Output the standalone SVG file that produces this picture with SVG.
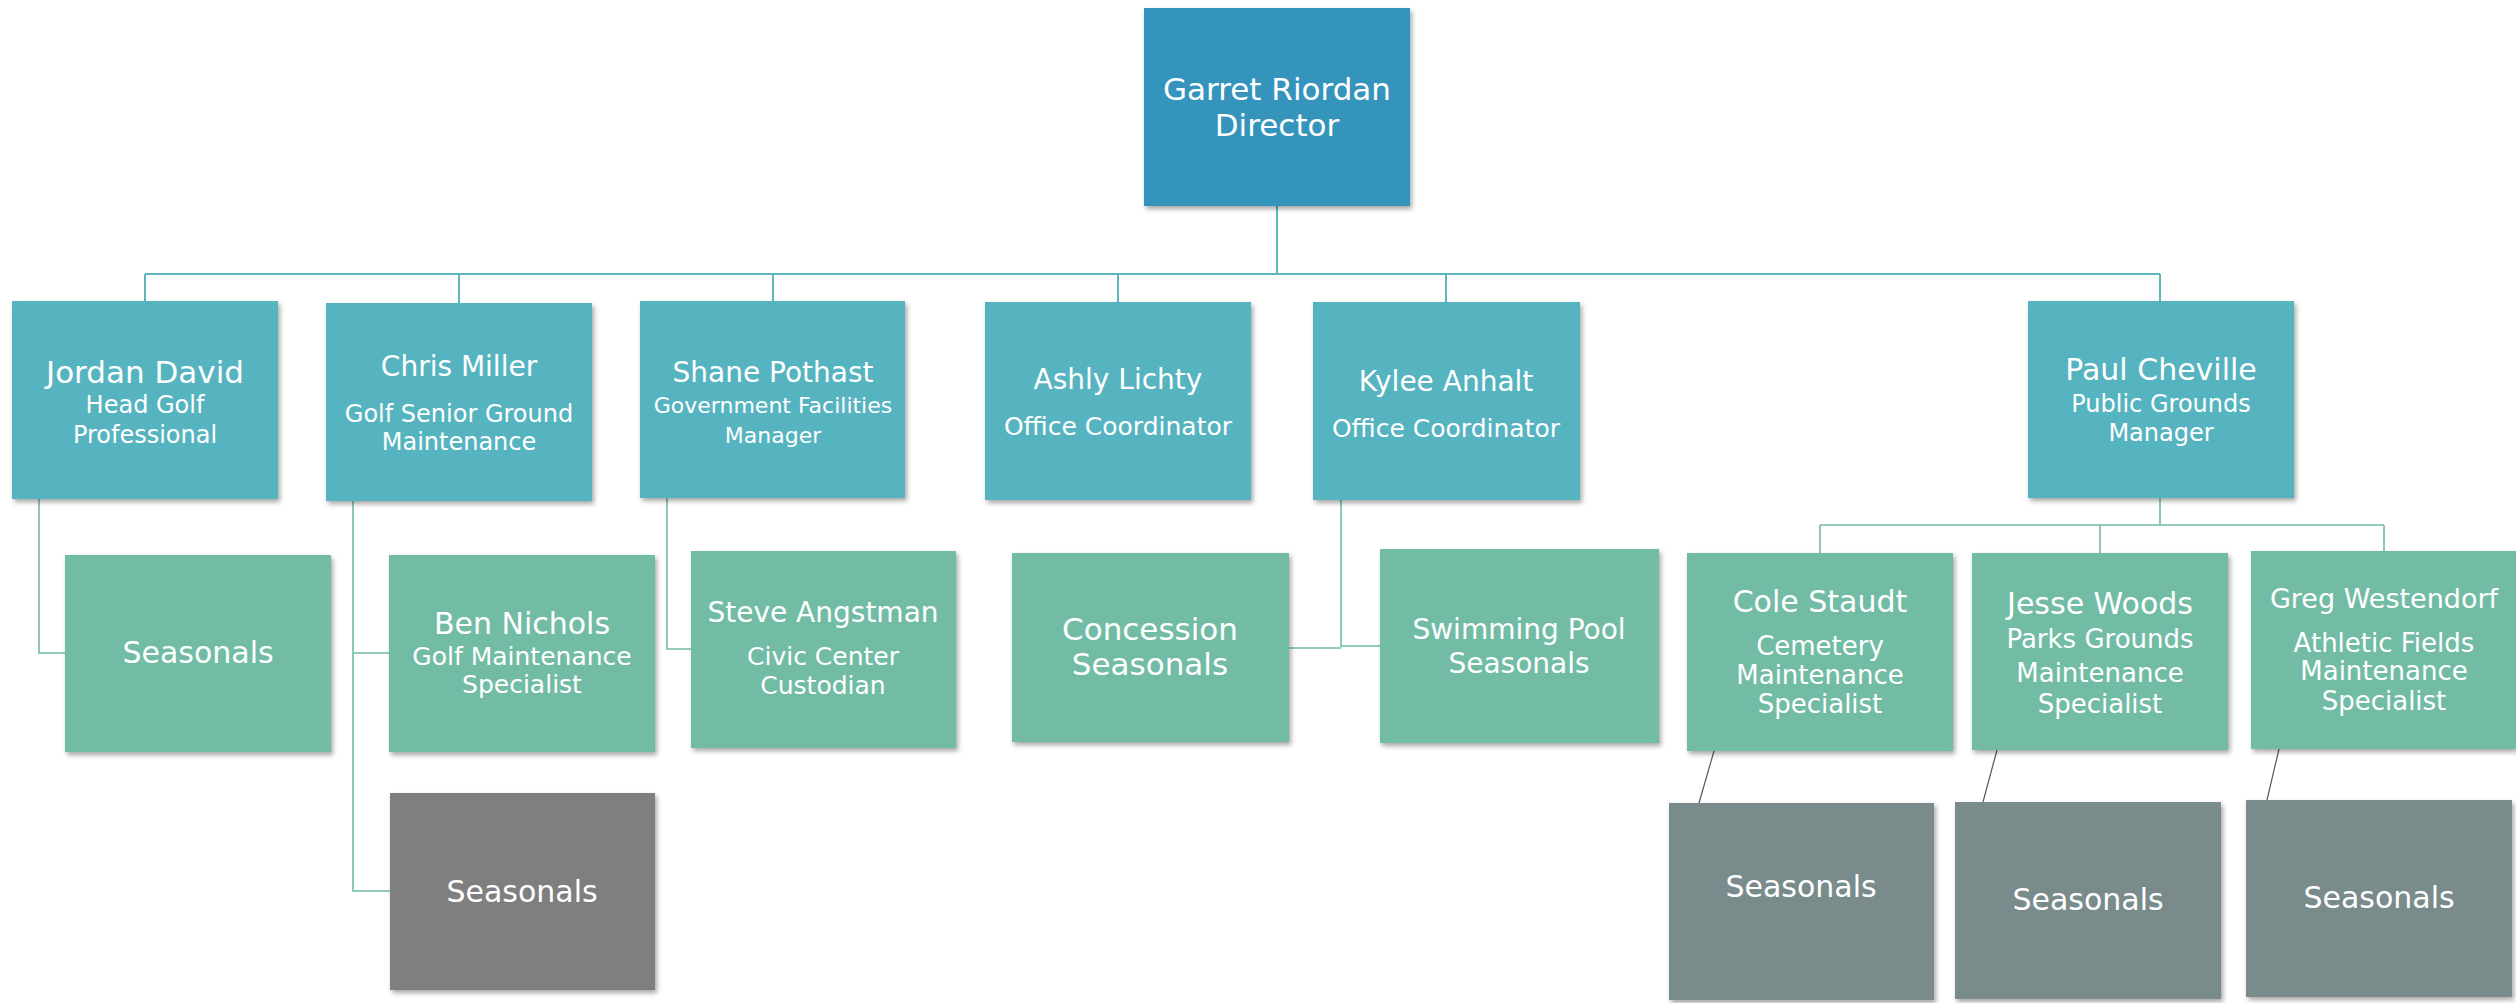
<svg xmlns="http://www.w3.org/2000/svg" width="2516" height="1003" viewBox="0 0 2516 1003">
<defs>
<filter id="sh" x="-10%" y="-10%" width="125%" height="125%">
<feDropShadow dx="2" dy="3" stdDeviation="2.5" flood-color="#000" flood-opacity="0.35"/>
</filter>
<style>
text{font-family:"DejaVu Sans","Liberation Sans",sans-serif;fill:#fff;text-anchor:middle}
.dir{fill:#3494bc;filter:url(#sh)}
.l1{fill:#56b4c0;filter:url(#sh)}
.gr{fill:#72bca6;filter:url(#sh)}
.gy{fill:#7f7f7f;filter:url(#sh)}
.sl{fill:#798b8b;filter:url(#sh)}
.c1{stroke:#5cb6be;stroke-width:2;fill:none}
.c2{stroke:#72bca6;stroke-width:1.6;fill:none}
.c3{stroke:#4f5a5a;stroke-width:1.2;fill:none}
</style>
</defs>
<rect width="2516" height="1003" fill="#fff"/>
<g id="connectors">
<path class="c1" d="M1277 206V274M145 274H2160M145 274V301M459 274V303M773 274V301M1118 274V302M1446 274V302M2160 274V301"/>
<path class="c2" d="M39 499V653H65M353 501V891H390M353 653H389M667 498V649H691M1341 500V647M1289 648H1341M1341 646H1380M2160 498V525M1820 525H2384M1820 525V553M2100 525V553M2384 525V551"/>
<path class="c3" d="M1714 751L1699 803M1997 750L1983 802M2279 749L2267 800"/>
</g>
<g id="director"><rect class="dir" x="1144" y="8" width="266" height="198"/><text x="1277" y="100" font-size="31">Garret Riordan</text><text x="1277" y="136" font-size="31">Director</text></g>
<g id="jordan"><rect class="l1" x="12" y="301" width="266" height="198"/><text x="145" y="383" font-size="31">Jordan David</text><text x="145" y="413" font-size="24">Head Golf</text><text x="145" y="443" font-size="24">Professional</text></g>
<g id="chris"><rect class="l1" x="326" y="303" width="266" height="198"/><text x="459" y="376" font-size="28">Chris Miller</text><text x="459" y="422" font-size="24">Golf Senior Ground</text><text x="459" y="450" font-size="24">Maintenance</text></g>
<g id="shane"><rect class="l1" x="640" y="301" width="265" height="197"/><text x="773" y="382" font-size="28">Shane Pothast</text><text x="773" y="413" font-size="22">Government Facilities</text><text x="773" y="443" font-size="22">Manager</text></g>
<g id="ashly"><rect class="l1" x="985" y="302" width="266" height="198"/><text x="1118" y="389" font-size="28">Ashly Lichty</text><text x="1118" y="435" font-size="25">Office Coordinator</text></g>
<g id="kylee"><rect class="l1" x="1313" y="302" width="267" height="198"/><text x="1446" y="391" font-size="28">Kylee Anhalt</text><text x="1446" y="437" font-size="25">Office Coordinator</text></g>
<g id="paul"><rect class="l1" x="2028" y="301" width="266" height="197"/><text x="2161" y="380" font-size="30">Paul Cheville</text><text x="2161" y="412" font-size="24">Public Grounds</text><text x="2161" y="441" font-size="24">Manager</text></g>
<g id="seasonals-jordan"><rect class="gr" x="65" y="555" width="266" height="197"/><text x="198" y="663" font-size="30">Seasonals</text></g>
<g id="ben"><rect class="gr" x="389" y="555" width="266" height="197"/><text x="522" y="634" font-size="30">Ben Nichols</text><text x="522" y="665" font-size="25">Golf Maintenance</text><text x="522" y="693" font-size="25">Specialist</text></g>
<g id="seasonals-chris"><rect class="gy" x="390" y="793" width="265" height="197"/><text x="522" y="902" font-size="30">Seasonals</text></g>
<g id="steve"><rect class="gr" x="691" y="551" width="265" height="197"/><text x="823" y="622" font-size="28">Steve Angstman</text><text x="823" y="665" font-size="25">Civic Center</text><text x="823" y="694" font-size="25">Custodian</text></g>
<g id="concession"><rect class="gr" x="1012" y="553" width="277" height="189"/><text x="1150" y="640" font-size="31">Concession</text><text x="1150" y="675" font-size="31">Seasonals</text></g>
<g id="pool"><rect class="gr" x="1380" y="549" width="279" height="194"/><text x="1519" y="639" font-size="28">Swimming Pool</text><text x="1519" y="673" font-size="28">Seasonals</text></g>
<g id="cole"><rect class="gr" x="1687" y="553" width="266" height="198"/><text x="1820" y="612" font-size="30">Cole Staudt</text><text x="1820" y="655" font-size="26">Cemetery</text><text x="1820" y="684" font-size="26">Maintenance</text><text x="1820" y="713" font-size="26">Specialist</text></g>
<g id="jesse"><rect class="gr" x="1972" y="553" width="256" height="197"/><text x="2100" y="614" font-size="30">Jesse Woods</text><text x="2100" y="648" font-size="26">Parks Grounds</text><text x="2100" y="682" font-size="26">Maintenance</text><text x="2100" y="713" font-size="26">Specialist</text></g>
<g id="greg"><rect class="gr" x="2251" y="551" width="265" height="198"/><text x="2384" y="608" font-size="27">Greg Westendorf</text><text x="2384" y="652" font-size="26">Athletic Fields</text><text x="2384" y="680" font-size="26">Maintenance</text><text x="2384" y="710" font-size="26">Specialist</text></g>
<g id="seasonals-cole"><rect class="sl" x="1669" y="803" width="265" height="197"/><text x="1801" y="897" font-size="30">Seasonals</text></g>
<g id="seasonals-jesse"><rect class="sl" x="1955" y="802" width="266" height="197"/><text x="2088" y="910" font-size="30">Seasonals</text></g>
<g id="seasonals-greg"><rect class="sl" x="2246" y="800" width="266" height="197"/><text x="2379" y="908" font-size="30">Seasonals</text></g>
</svg>
